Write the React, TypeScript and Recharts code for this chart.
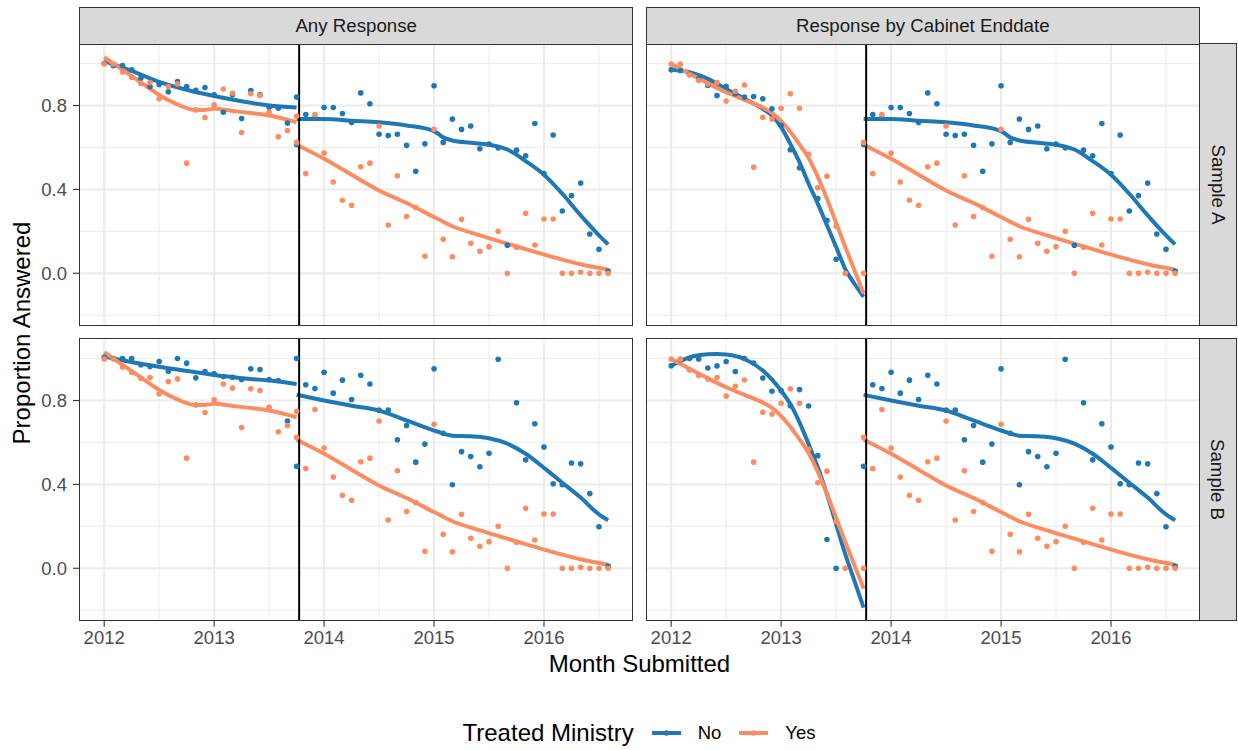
import React from "react";
import {
  ComposedChart,
  Scatter,
  Line,
  XAxis,
  YAxis,
  CartesianGrid,
  ReferenceLine,
} from "recharts";

// months are counted from Jan 2012 (month 0); post series start at month 21
const YEAR0 = 2012;
const POST_START = 21;
const CUTOFF = 2013.773;

const YEAR_TICKS = [2012, 2013, 2014, 2015, 2016];
const MINOR_X = [2012.5, 2013.5, 2014.5, 2015.5, 2016.5];
const Y_TICKS = [0, 0.4, 0.8];
const MINOR_Y = [-0.2, 0.2, 0.6, 1.0];

const COLUMNS = ["Any Response", "Response by Cabinet Enddate"];
const ROWS = ["Sample A", "Sample B"];
const GROUPS = ["No", "Yes"];

// ---- observed proportions ----
const anyNoPreA = [1.0, 0.99, 0.99, 0.97, 0.93, 0.89, 0.9, 0.865, 0.914, 0.89, 0.873, 0.886, 0.851, 0.768, 0.851, 0.738, 0.871, 0.851, 0.792, 0.787, 0.716, 0.84];
const anyNoPostA = [0.614, 0.757, 0.741, 0.79, 0.79, 0.762, 0.719, 0.86, 0.808, 0.663, 0.657, 0.663, 0.61, 0.486, 0.617, 0.894, 0.624, 0.735, 0.686, 0.702, 0.594, 0.616, 0.598, 0.133, 0.587, 0.56, 0.714, 0.475, 0.659, 0.297, 0.37, 0.43, 0.187, 0.114, 0.011];
const anyNoPreB = [1.006, 1.0, 1.0, 1.0, 0.97, 0.962, 0.986, 0.94, 1.0, 0.978, 0.908, 0.938, 0.927, 0.914, 0.911, 0.9, 0.951, 0.948, 0.9, 0.895, 0.702, 1.0];
const anyNoPostB = [0.486, 0.875, 0.857, 0.935, 0.835, 0.897, 0.805, 0.92, 0.879, 0.754, 0.754, 0.613, 0.681, 0.506, 0.592, 0.951, 0.644, 0.398, 0.556, 0.533, 0.484, 0.548, 0.997, null, 0.789, 0.517, 0.689, 0.578, 0.403, 0.398, 0.502, 0.498, 0.356, 0.198, 0.01];
const anyYesPre = [0.998, 0.998, 0.96, 0.935, 0.906, 0.91, 0.832, 0.89, 0.903, 0.525, 0.779, 0.743, 0.803, 0.879, 0.859, 0.671, 0.856, 0.848, 0.768, 0.651, 0.681, 0.749];
const anyYesPost = [0.624, 0.475, 0.757, 0.573, 0.435, 0.348, 0.324, 0.508, 0.525, 0.702, 0.23, 0.465, 0.271, 0.313, 0.081, 0.687, 0.162, 0.079, 0.257, 0.143, 0.105, 0.127, 0.2, 0, 0.124, 0.286, 0.135, 0.259, 0.259, 0, 0, 0.005, 0, 0, 0];
const cabNoPreA = [0.97, 0.967, 0.948, 0.927, 0.895, 0.848, 0.89, 0.856, 0.84, 0.843, 0.832, 0.784, 0.705, 0.589, 0.503, null, 0.356, 0.252, 0.067];
const cabNoPreB = [0.966, 0.995, 1.0, 0.998, 0.955, 0.965, 0.986, 0.938, 1.0, 0.978, 0.907, 0.844, 0.847, 0.775, 0.852, 0.774, 0.537, 0.137, 0.0];
const cabYesPre = [0.998, 0.998, 0.946, 0.919, 0.903, 0.91, 0.821, 0.868, 0.898, 0.506, 0.744, 0.735, 0.787, 0.856, 0.787, 0.567, 0.408, 0.463, 0.224, 0, null, 0];

const fitAnyNoPreA = [[0, 1.012], [3, 0.965], [6, 0.913], [9, 0.875], [12, 0.845], [15, 0.82], [18, 0.8], [21, 0.79]];
const fitAnyNoPostA = [[21, 0.735], [24, 0.735], [27, 0.727], [30, 0.72], [33, 0.705], [36, 0.678], [37, 0.648], [38, 0.633], [40, 0.622], [42, 0.613], [44, 0.59], [46, 0.535], [48, 0.47], [50, 0.379], [52, 0.276], [54, 0.181], [55, 0.138]];
const fitAnyNoPreB = [[0, 1.01], [4, 0.975], [8, 0.948], [12, 0.922], [16, 0.903], [18, 0.895], [21, 0.879]];
const fitAnyNoPostB = [[21, 0.827], [24, 0.8], [27, 0.775], [30, 0.752], [33, 0.705], [36, 0.657], [38, 0.632], [40, 0.629], [42, 0.62], [44, 0.594], [46, 0.546], [48, 0.479], [50, 0.408], [52, 0.337], [54, 0.257], [55, 0.229]];
const fitAnyYesPre = [[0, 1.03], [2, 0.97], [4, 0.91], [6, 0.85], [8, 0.805], [10, 0.778], [11, 0.779], [12, 0.784], [14, 0.774], [16, 0.764], [18, 0.752], [21, 0.72]];
const fitAnyYesPost = [[21, 0.613], [24, 0.546], [27, 0.47], [30, 0.395], [33, 0.335], [36, 0.268], [38, 0.224], [41, 0.181], [44, 0.141], [47, 0.102], [50, 0.065], [52, 0.043], [55, 0.017]];
const fitCabNoPreA = [[0, 0.97], [2, 0.959], [4, 0.927], [6, 0.879], [8, 0.832], [10, 0.784], [11, 0.752], [12, 0.697], [13, 0.617], [14, 0.53], [15, 0.427], [16, 0.332], [17, 0.229], [18, 0.125], [19, 0.02], [20, -0.05], [21, -0.113]];
const fitCabNoPreB = [[0, 0.966], [2, 1.006], [4, 1.02], [5, 1.022], [6, 1.019], [8, 0.998], [10, 0.943], [12, 0.847], [13, 0.783], [14, 0.696], [15, 0.592], [16, 0.481], [17, 0.354], [18, 0.21], [19, 0.067], [20, -0.06], [21, -0.188]];
const fitCabYesPre = [[0, 0.998], [2, 0.951], [4, 0.906], [6, 0.863], [8, 0.827], [10, 0.79], [11, 0.765], [12, 0.725], [13, 0.675], [14, 0.615], [15, 0.55], [16, 0.46], [17, 0.355], [18, 0.24], [19, 0.125], [20, 0.015], [21, -0.097]];

const BLUE = "#1F78B4";
const ORANGE = "#FC8D62";
const FONT = '"Liberation Sans", Arial, Helvetica, sans-serif';

const X_DOMAIN: [number, number] = [2011.771, 2016.812];
const Y_DOMAIN: [number, number] = [-0.25, 1.098];

const PANEL_W = 554.3;
const PANEL_H = 282.7;
const COL_X = [79, 645.7];
const ROW_Y = [43.3, 338.3];
const Y_AXIS_W = 79;
const X_AXIS_H = 40;

const toPoints = (vals: (number | null)[], start: number) =>
  vals.flatMap((v, i) => (v == null ? [] : [{ t: YEAR0 + (start + i) / 12, v }]));
const toCurve = (knots: number[][]) => knots.map(([m, v]) => ({ t: YEAR0 + m / 12, v }));

type PanelData = {
  noPre: (number | null)[];
  noPost: (number | null)[];
  yesPre: (number | null)[];
  yesPost: (number | null)[];
  fits: { knots: number[][]; color: string }[];
};

const panels: PanelData[][] = [
  [
    {
      noPre: anyNoPreA, noPost: anyNoPostA, yesPre: anyYesPre, yesPost: anyYesPost,
      fits: [
        { knots: fitAnyNoPreA, color: BLUE }, { knots: fitAnyYesPre, color: ORANGE },
        { knots: fitAnyNoPostA, color: BLUE }, { knots: fitAnyYesPost, color: ORANGE },
      ],
    },
    {
      noPre: cabNoPreA, noPost: anyNoPostA, yesPre: cabYesPre, yesPost: anyYesPost,
      fits: [
        { knots: fitCabNoPreA, color: BLUE }, { knots: fitCabYesPre, color: ORANGE },
        { knots: fitAnyNoPostA, color: BLUE }, { knots: fitAnyYesPost, color: ORANGE },
      ],
    },
  ],
  [
    {
      noPre: anyNoPreB, noPost: anyNoPostB, yesPre: anyYesPre, yesPost: anyYesPost,
      fits: [
        { knots: fitAnyNoPreB, color: BLUE }, { knots: fitAnyYesPre, color: ORANGE },
        { knots: fitAnyNoPostB, color: BLUE }, { knots: fitAnyYesPost, color: ORANGE },
      ],
    },
    {
      noPre: cabNoPreB, noPost: anyNoPostB, yesPre: cabYesPre, yesPost: anyYesPost,
      fits: [
        { knots: fitCabNoPreB, color: BLUE }, { knots: fitCabYesPre, color: ORANGE },
        { knots: fitAnyNoPostB, color: BLUE }, { knots: fitAnyYesPost, color: ORANGE },
      ],
    },
  ],
];

const dot = (color: string) => (p: any) => <circle cx={p.cx} cy={p.cy} r={2.8} fill={color} />;

function Panel({ d, row, col }: { d: PanelData; row: number; col: number }) {
  const showX = row === 1;
  const showY = col === 0;
  const w = PANEL_W + (showY ? Y_AXIS_W : 0);
  const h = PANEL_H + (showX ? X_AXIS_H : 0);
  const tickStyle = { fill: "#4D4D4D", fontSize: 18.5, fontFamily: FONT };
  return (
    <div style={{ position: "absolute", left: COL_X[col] - (showY ? Y_AXIS_W : 0), top: ROW_Y[row], width: w, height: h }}>
      <ComposedChart width={w} height={h} margin={{ top: 0, right: 0, bottom: 0, left: 0 }}>
        <CartesianGrid verticalValues={MINOR_X} horizontalValues={MINOR_Y} stroke="#EBEBEB" strokeWidth={1} />
        <CartesianGrid verticalValues={YEAR_TICKS} horizontalValues={Y_TICKS} stroke="#EBEBEB" strokeWidth={2} />
        <XAxis
          type="number"
          dataKey="t"
          domain={X_DOMAIN}
          allowDataOverflow
          ticks={YEAR_TICKS}
          hide={!showX}
          height={X_AXIS_H}
          axisLine={false}
          tickLine={{ stroke: "#333333", strokeWidth: 1.1 }}
          tickSize={6}
          tickMargin={4}
          tick={tickStyle}
          interval={0}
        />
        <YAxis
          type="number"
          dataKey="v"
          domain={Y_DOMAIN}
          allowDataOverflow
          ticks={Y_TICKS}
          hide={!showY}
          width={Y_AXIS_W}
          axisLine={false}
          tickLine={{ stroke: "#333333", strokeWidth: 1.1 }}
          tickSize={6}
          tickMargin={6}
          tick={tickStyle}
          tickFormatter={(v: number) => v.toFixed(1)}
          interval={0}
        />
        <Scatter data={toPoints(d.noPre, 0)} dataKey="v" shape={dot(BLUE)} isAnimationActive={false} />
        <Scatter data={toPoints(d.noPost, POST_START)} dataKey="v" shape={dot(BLUE)} isAnimationActive={false} />
        <Scatter data={toPoints(d.yesPre, 0)} dataKey="v" shape={dot(ORANGE)} isAnimationActive={false} />
        <Scatter data={toPoints(d.yesPost, POST_START)} dataKey="v" shape={dot(ORANGE)} isAnimationActive={false} />
        {d.fits.map((f, i) => (
          <Line
            key={i}
            data={toCurve(f.knots)}
            dataKey="v"
            type="monotone"
            stroke={f.color}
            strokeWidth={4}
            dot={false}
            activeDot={false}
            isAnimationActive={false}
          />
        ))}
        <ReferenceLine x={CUTOFF} stroke="#000000" strokeWidth={2} />
      </ComposedChart>
      <div
        style={{
          position: "absolute",
          left: showY ? Y_AXIS_W : 0,
          top: 0,
          width: PANEL_W,
          height: PANEL_H,
          border: "1.3px solid #333333",
          boxSizing: "border-box",
          pointerEvents: "none",
        }}
      />
    </div>
  );
}

function LegendKey({ color }: { color: string }) {
  return (
    <svg width={29} height={10} style={{ display: "block" }}>
      <line x1={0} y1={5} x2={29} y2={5} stroke={color} strokeWidth={4} />
      <circle cx={14.5} cy={5} r={2.8} fill={color} />
    </svg>
  );
}

export default function App() {
  const stripText = { fontFamily: FONT, fontSize: 18.7, color: "#1A1A1A", lineHeight: "19px" };
  return (
    <div style={{ position: "absolute", left: 0, top: 0, width: 1238, height: 750, background: "#FFFFFF", fontFamily: FONT }}>
      {panels.map((r, ri) => r.map((d, ci) => <Panel key={`${ri}-${ci}`} d={d} row={ri} col={ci} />))}

      {COLUMNS.map((c, ci) => (
        <div
          key={c}
          style={{
            position: "absolute",
            left: COL_X[ci],
            top: 7,
            width: PANEL_W,
            height: ROW_Y[0] - 7 + 1.3,
            background: "#D9D9D9",
            border: "1.3px solid #333333",
            boxSizing: "border-box",
            display: "flex",
            alignItems: "center",
            justifyContent: "center",
            ...stripText,
          }}
        >
          {c}
        </div>
      ))}

      {ROWS.map((r, ri) => (
        <div
          key={r}
          style={{
            position: "absolute",
            left: COL_X[1] + PANEL_W - 1.3,
            top: ROW_Y[ri],
            width: 1236.7 - (COL_X[1] + PANEL_W) + 1.3,
            height: PANEL_H,
            background: "#D9D9D9",
            border: "1.3px solid #333333",
            boxSizing: "border-box",
            display: "flex",
            alignItems: "center",
            justifyContent: "center",
          }}
        >
          <div style={{ transform: "rotate(90deg)", whiteSpace: "nowrap", ...stripText }}>{r}</div>
        </div>
      ))}

      <div
        style={{
          position: "absolute",
          left: 22 - 150,
          top: 332.5 - 12,
          width: 300,
          height: 24,
          lineHeight: "24px",
          textAlign: "center",
          fontSize: 24,
          color: "#000000",
          transform: "rotate(-90deg)",
        }}
      >
        Proportion Answered
      </div>

      <div
        style={{
          position: "absolute",
          left: COL_X[0],
          top: 664 - 12,
          width: COL_X[1] + PANEL_W - COL_X[0],
          height: 24,
          lineHeight: "24px",
          textAlign: "center",
          fontSize: 24,
          color: "#000000",
        }}
      >
        Month Submitted
      </div>

      <div
        style={{
          position: "absolute",
          left: 0,
          top: 733 - 12,
          width: 1238 + 40,
          height: 24,
          display: "flex",
          alignItems: "center",
          justifyContent: "center",
        }}
      >
        <span style={{ fontSize: 24, color: "#000000", marginRight: 18 }}>Treated Ministry</span>
        {GROUPS.map((g, i) => (
          <React.Fragment key={g}>
            <LegendKey color={i === 0 ? BLUE : ORANGE} />
            <span style={{ fontSize: 18.5, color: "#000000", marginLeft: 17, marginRight: i === 0 ? 18 : 0 }}>{g}</span>
          </React.Fragment>
        ))}
      </div>
    </div>
  );
}
